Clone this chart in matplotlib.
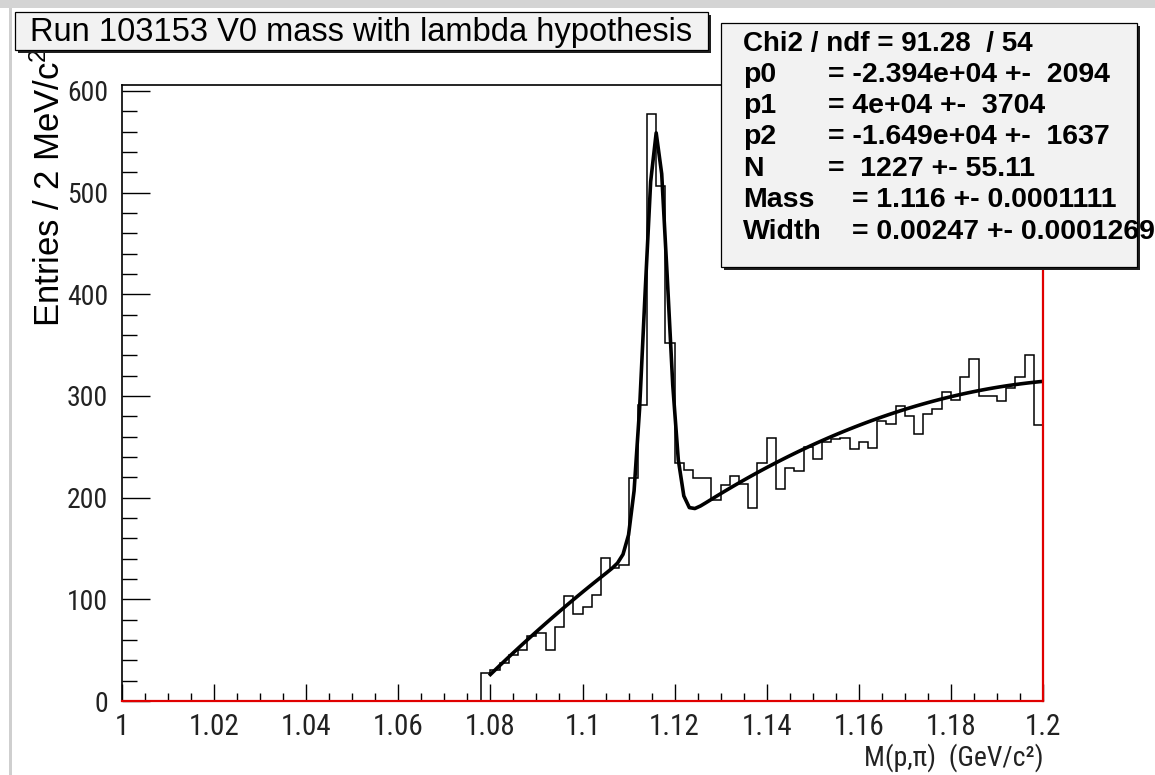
import numpy as np
import matplotlib
matplotlib.use("Agg")
import matplotlib.pyplot as plt
from matplotlib import font_manager
from matplotlib.patches import Rectangle
from matplotlib.ticker import FixedLocator, MultipleLocator

# ---------------- data ----------------
bin_start = 1.078
bin_width = 0.002
counts = [28, 30, 37, 45, 50, 64, 67, 50, 73, 103,
          86, 92, 104, 141, 131, 134, 219, 291, 577, 507,
          352, 234, 227, 219, 219, 198, 212, 221, 213, 190,
          234, 259, 209, 229, 226, 250, 238, 255, 258, 259,
          248, 255, 249, 275, 272, 290, 280, 263, 282, 287,
          304, 296, 319, 336, 300, 300, 295, 308, 319, 340,
          271]

fit_lo, fit_hi = 1.08, 1.2
p0, p1, p2 = -2.394e4, 4.0e4, -1.649e4
N_sig, mass, width = 1227.0, 1.116, 0.00247

x_ticks = [1.0, 1.02, 1.04, 1.06, 1.08, 1.1, 1.12, 1.14, 1.16, 1.18, 1.2]
x_tick_labels = ["1", "1.02", "1.04", "1.06", "1.08", "1.1", "1.12", "1.14", "1.16", "1.18", "1.2"]
y_ticks = [0, 100, 200, 300, 400, 500, 600]
y_tick_labels = ["0", "100", "200", "300", "400", "500", "600"]

title = "Run 103153 V0 mass with lambda hypothesis"
x_title = "M(p,\u03c0)  (GeV/c\u00b2)"
y_title = "Entries / 2 MeV/c$^{2}$"
stats_rows = [
    ("Chi2 / ndf = 91.28  / 54", ""),
    ("p0", "= -2.394e+04 +-  2094"),
    ("p1", "= 4e+04 +-  3704"),
    ("p2", "= -1.649e+04 +-  1637"),
    ("N", "=  1227 +- 55.11"),
    ("Mass", "= 1.116 +- 0.0001111"),
    ("Width", "= 0.00247 +- 0.0001269"),
]

# ---------------- fonts ----------------
names = {f.name for f in font_manager.fontManager.ttflist}
narrow = "Liberation Sans"
for cand in ["Liberation Sans Narrow", "DejaVu Sans Condensed", "Roboto Condensed", "Open Sans Condensed"]:
    if cand in names:
        narrow = cand
        break
plt.rcParams["font.family"] = ["Liberation Sans", "DejaVu Sans"]
plt.rcParams["mathtext.fontset"] = "custom"
plt.rcParams["mathtext.rm"] = "Liberation Sans"
plt.rcParams["mathtext.it"] = "Liberation Sans"

W, H = 1155, 775
fig = plt.figure(figsize=(W / 100, H / 100), dpi=100)
fig.patch.set_facecolor("white")

def fx(px):
    return px / W

def fy(py):
    return 1 - py / H

L, R, T, B = 122, 1043, 85, 701
ax = fig.add_axes([fx(L), fy(B), fx(R) - fx(L), fy(T) - fy(B)])
ax.set_xlim(1.0, 1.2)
ax.set_ylim(0, 605.9)
ax.set_facecolor("white")

# histogram
edges = bin_start + bin_width * np.arange(len(counts) + 1)
ax.stairs(counts, edges, baseline=0, fill=False, color="black", linewidth=1.1, zorder=3)

# fit function (from stats-box parameters)
xf = np.linspace(fit_lo, fit_hi, 101)
bkg = p0 + p1 * xf + p2 * xf ** 2
sig = N_sig * bin_width / (np.sqrt(2 * np.pi) * width) * np.exp(-0.5 * ((xf - mass) / width) ** 2)
ax.plot(xf, bkg + sig, color="black", linewidth=2.6, zorder=4, solid_joinstyle="round")

# spines
for s in ["top", "left"]:
    ax.spines[s].set_color("black")
    ax.spines[s].set_linewidth(1.2)
for s in ["bottom", "right"]:
    ax.spines[s].set_color("#e00000")
    ax.spines[s].set_linewidth(1.6)
    ax.spines[s].set_zorder(5)

# ticks
ax.xaxis.set_major_locator(FixedLocator(x_ticks))
ax.set_xticklabels(x_tick_labels)
ax.xaxis.set_minor_locator(MultipleLocator(0.005))
ax.yaxis.set_major_locator(FixedLocator(y_ticks))
ax.set_yticklabels(y_tick_labels)
ax.yaxis.set_minor_locator(MultipleLocator(20))
ax.tick_params(axis="x", which="major", direction="in", length=12.2, width=1.0, pad=8.5,
               labelsize=21, top=False)
ax.tick_params(axis="x", which="minor", direction="in", length=6.1, width=1.0, top=False)
ax.tick_params(axis="y", which="major", direction="in", length=20, width=1.0, pad=10,
               labelsize=20, right=False)
ax.tick_params(axis="y", which="minor", direction="in", length=10.6, width=1.0, right=False)
for lab in ax.get_xticklabels() + ax.get_yticklabels():
    lab.set_family([narrow, "DejaVu Sans"])
    lab.set_color("#222222")

# overlay in pixel coordinates
ov = fig.add_axes([0, 0, 1, 1], zorder=10)
ov.set_xlim(0, W)
ov.set_ylim(H, 0)
ov.axis("off")
ov.patch.set_alpha(0)

# canvas border
ov.add_patch(Rectangle((0, 0), W, 8, facecolor="#d4d4d4", edgecolor="none", zorder=1))
ov.add_patch(Rectangle((9, 8), 3, H - 8, facecolor="#cfcfcf", edgecolor="none", zorder=1))

# x / y titles
ov.text(1043, 758, x_title, ha="right", va="center", fontsize=20,
        family=[narrow, "DejaVu Sans"], color="#222222", zorder=2)
ov.text(50, 327, y_title, rotation=90, rotation_mode="anchor", ha="left", va="center",
        fontsize=25, color="black", zorder=2)

# title box
tx0, ty0, tx1, ty1 = 15, 12, 708, 50
ov.add_patch(Rectangle((tx0 + 3, ty0 + 3), tx1 - tx0, ty1 - ty0, facecolor="#202020", edgecolor="none", zorder=5))
ov.add_patch(Rectangle((tx0, ty0), tx1 - tx0, ty1 - ty0, facecolor="#f2f2f2", edgecolor="black", linewidth=0.9, zorder=6))
ov.text((tx0 + tx1) / 2, (ty0 + ty1) / 2 + 1, title, ha="center", va="center", fontsize=23.5,
        color="black", zorder=7)

# stats box
sx0, sy0, sx1, sy1 = 721, 23, 1137, 267
ov.add_patch(Rectangle((sx0 + 3, sy0 + 3), sx1 - sx0, sy1 - sy0, facecolor="#202020", edgecolor="none", zorder=5))
ov.add_patch(Rectangle((sx0, sy0), sx1 - sx0, sy1 - sy0, facecolor="#f2f2f2", edgecolor="black", linewidth=0.9, zorder=6))
row_y = [44, 75, 106, 137.5, 169, 200, 232]
eq_x = [None, 828, 828, 828, 828, 852, 852]
for i, ((lab, val), yy, ex) in enumerate(zip(stats_rows, row_y, eq_x)):
    ov.text(743, yy, lab, ha="left", va="center", fontsize=20 if i == 0 else 20.5,
            fontweight="bold", color="black", zorder=7)
    if val:
        ov.text(ex, yy, val, ha="left", va="center", fontsize=20.5, fontweight="bold",
                color="black", zorder=7)

fig.savefig("out.png", dpi=100, facecolor="white")
